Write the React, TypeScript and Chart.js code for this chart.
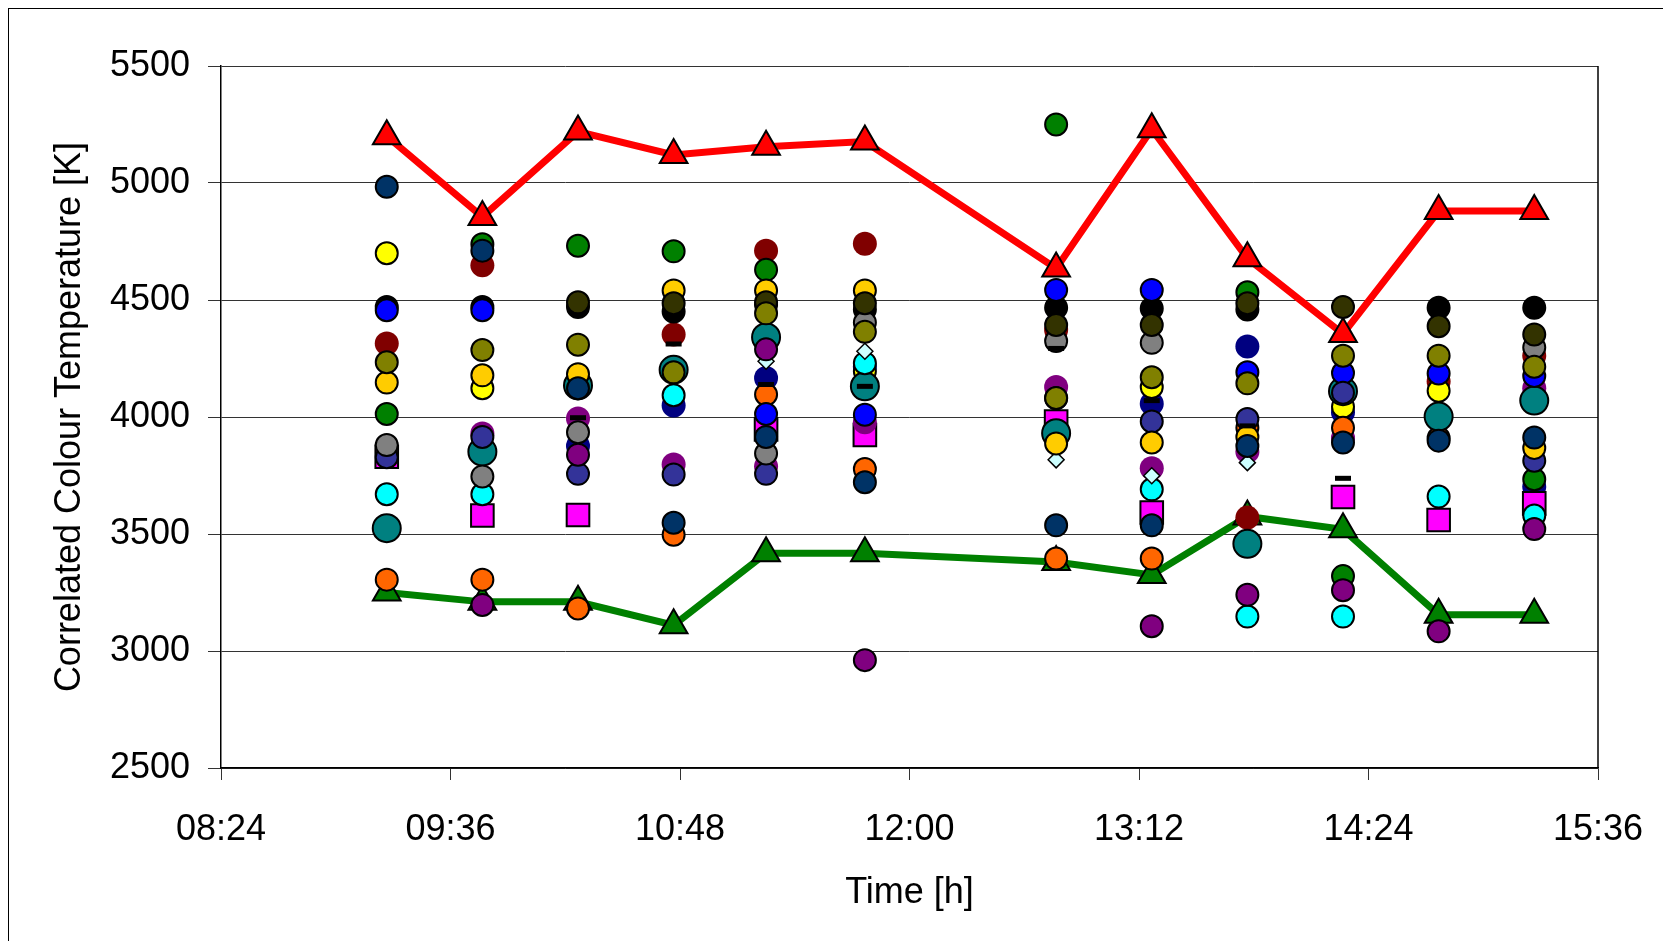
import React, { useEffect, useRef } from "react";
import { Chart, registerables } from "chart.js";

Chart.register(...registerables);

// Measurement times (hh:mm)
const TIMES = ["09:16", "09:46", "10:16", "10:46", "11:15", "11:46", "12:46", "13:16", "13:46", "14:16", "14:46", "15:16"];

// Axis range
const X_START = "08:24";
const X_END = "15:36";
const X_STEP_MIN = 72;
const Y_MIN = 2500;
const Y_MAX = 5500;
const Y_STEP = 500;

// Envelope series (K)
const MAX_CCT = [5200, 4855, 5220, 5120, 5155, 5177, 4635, 5230, 4678, 4355, 4880, 4880];
const MIN_CCT = [3250, 3210, 3210, 3110, 3418, 3418, 3380, 3325, 3575, 3520, 3155, 3155];

// Individual measuring points (K), null = no reading
const P_NAVY = [4984, 4711, 4123, 3548, 3915, 3721, 3537, 3537, 3876, 3891, 3899, 3912];
const P_YELLOW = [4700, 4123, null, null, null, 4195, null, 4128, null, 4044, 4112, null];
const P_BLUE = [4456, 4456, null, null, 4013, 4010, 4543, 4543, 4191, 4188, 4186, 4175];
const P_MAROON = [4314, 4648, null, 4353, 4711, 4740, 4372, null, 3570, null, 4152, 4262];
const P_OLIVE = [4234, 4286, 4309, 4191, 4443, 4364, 4081, 4170, 4144, 4262, 4262, 4215];
const P_GOLD = [4147, 4178, 4183, 4541, 4541, 4541, 3887, 3891, 3915, null, null, 3868];
const P_GREEN = [4013, 4738, 4732, 4708, 4629, null, 5250, null, 4533, 3320, null, 3734];
const P_GREY = [3880, 3746, 3935, null, 3844, 4404, 4325, 4317, null, null, null, 4297];
const P_SLATE = [3828, 3915, 3757, 3754, 3757, null, 4080, 3981, 3991, 4104, null, 3813];
const P_MAGENTA = [3830, 3579, 3581, null, 3947, 3923, 3981, 3592, null, 3658, 3560, 3631];
const P_CYAN = [3670, 3670, null, 4093, null, 4230, null, 3691, 3147, 3147, 3660, 3579];
const P_TEAL = [3525, 3852, 4135, 4202, 4341, 4131, 3931, null, 3458, 4110, 4002, 4070];
const P_ORANGE = [3305, 3305, 3182, 3497, 4096, 3778, 3395, 3395, 3954, 3954, 3910, null];
const P_PURPLE = [null, 3197, 3839, null, 4289, 2961, null, 3106, 3240, 3260, 3084, 3521];
const P_VIOLET = [null, 3930, 3994, 3797, 3789, 3978, 4128, 3781, 3852, 3910, null, 4123];
const P_BLACK = [4470, 4470, 4470, 4451, 4480, 4459, 4467, 4464, 4459, null, 4467, 4467];
const P_DARKOLIVE = [null, null, 4490, 4486, 4490, 4486, 4393, 4393, 4486, 4470, 4388, 4353];
const P_DEEPBLUE = [null, null, 3876, 4049, 4167, 4215, null, 4057, 4301, 4020, null, 3702];
const P_ICE = [null, null, null, null, 4238, 4281, 3817, 3749, 3805, null, null, null];
const P_BAR = [null, null, 3997, 4312, 4139, 4131, 4293, 4070, 3962, 3738, null, null];

const toMinutes = (t: string) => {
  const [h, m] = t.split(":").map(Number);
  return h * 60 + m;
};
const fmtTime = (v: number) => {
  const h = Math.floor(v / 60);
  const m = Math.round(v - h * 60);
  return `${String(h).padStart(2, "0")}:${String(m).padStart(2, "0")}`;
};

type Series = {
  label: string;
  values: (number | null)[];
  shape: string;
  fill: string;
  radius: number;
  border?: number;
  borderColor?: string;
  line?: string;
};

// Listed from the bottom layer to the top layer
const SERIES: Series[] = [
  { label: "Max", values: MAX_CCT, shape: "triangle", fill: "#FF0000", radius: 16, border: 2, line: "#FF0000" },
  { label: "Min", values: MIN_CCT, shape: "triangle", fill: "#008000", radius: 16, border: 2, line: "#008000" },
  { label: "P19", values: P_DEEPBLUE, shape: "circle", fill: "#000080", radius: 12, border: 0 },
  { label: "P18", values: P_MAROON, shape: "circle", fill: "#800000", radius: 12, border: 0 },
  { label: "P17", values: P_BLACK, shape: "circle", fill: "#000000", radius: 11, border: 2 },
  { label: "P16", values: P_MAGENTA, shape: "rect", fill: "#FF00FF", radius: 16, border: 2 },
  { label: "P15", values: P_VIOLET, shape: "circle", fill: "#800080", radius: 12, border: 0 },
  { label: "P14", values: P_YELLOW, shape: "circle", fill: "#FFFF00", radius: 11, border: 2 },
  { label: "P13", values: P_ORANGE, shape: "circle", fill: "#FF6600", radius: 11, border: 2 },
  { label: "P12", values: P_GREEN, shape: "circle", fill: "#008000", radius: 11, border: 2 },
  { label: "P11", values: P_TEAL, shape: "circle", fill: "#008080", radius: 14, border: 2 },
  { label: "P10", values: P_CYAN, shape: "circle", fill: "#00FFFF", radius: 11, border: 2 },
  { label: "P9", values: P_ICE, shape: "rectRot", fill: "#CCFFFF", radius: 8, border: 1.5 },
  { label: "P8", values: P_BLUE, shape: "circle", fill: "#0000FF", radius: 11, border: 2 },
  { label: "P7", values: P_SLATE, shape: "circle", fill: "#333399", radius: 11, border: 2 },
  { label: "P6", values: P_GREY, shape: "circle", fill: "#808080", radius: 11, border: 2 },
  { label: "P5", values: P_PURPLE, shape: "circle", fill: "#800080", radius: 11, border: 2 },
  { label: "P4", values: P_GOLD, shape: "circle", fill: "#FFCC00", radius: 11, border: 2 },
  { label: "P3", values: P_DARKOLIVE, shape: "circle", fill: "#333300", radius: 11, border: 2 },
  { label: "P2", values: P_OLIVE, shape: "circle", fill: "#808000", radius: 11, border: 2 },
  { label: "P1", values: P_NAVY, shape: "circle", fill: "#003366", radius: 11, border: 2 },
  { label: "P0", values: P_BAR, shape: "line", fill: "#000000", radius: 8, border: 5, borderColor: "#000000" },
];

const FONT = "'Liberation Sans', Arial, sans-serif";

const plotFrame = {
  id: "plotFrame",
  beforeDatasetsDraw(chart: any) {
    const { ctx, chartArea } = chart;
    ctx.save();
    ctx.strokeStyle = "#000";
    ctx.lineWidth = 1.5;
    ctx.beginPath();
    ctx.moveTo(chartArea.right, chartArea.top);
    ctx.lineTo(chartArea.right, chartArea.bottom);
    ctx.stroke();
    ctx.restore();
  },
};

export default function App() {
  const canvasRef = useRef<HTMLCanvasElement | null>(null);

  useEffect(() => {
    if (!canvasRef.current) return;
    const xs = TIMES.map(toMinutes);

    const datasets = SERIES.map((s) => ({
      label: s.label,
      data: s.values
        .map((v, i) => (v == null ? null : { x: xs[i], y: v }))
        .filter((p) => p !== null),
      showLine: !!s.line,
      borderColor: s.line ?? "transparent",
      borderWidth: s.line ? 7 : 0,
      pointStyle: s.shape,
      pointRadius: s.radius,
      pointHoverRadius: s.radius,
      pointBackgroundColor: s.fill,
      pointBorderColor: s.borderColor ?? "#000000",
      pointBorderWidth: s.border ?? 2,
      tension: 0,
    })).reverse();

    const chart = new Chart(canvasRef.current, {
      type: "scatter",
      data: { datasets: datasets as any },
      plugins: [plotFrame],
      options: {
        responsive: false,
        animation: false,
        layout: { padding: { top: 57, right: 65, left: 0, bottom: 0 } },
        plugins: { legend: { display: false }, tooltip: { enabled: false } },
        scales: {
          x: {
            type: "linear",
            min: toMinutes(X_START),
            max: toMinutes(X_END),
            afterFit: (scale: any) => {
              scale.height = 173;
              scale.paddingLeft = 0;
              scale.paddingRight = 0;
            },
            ticks: {
              stepSize: X_STEP_MIN,
              padding: 28,
              color: "#000",
              font: { family: FONT, size: 36 },
              callback: (v: any) => fmtTime(Number(v)),
              maxRotation: 0,
            },
            grid: {
              display: true,
              drawOnChartArea: false,
              drawTicks: true,
              tickLength: 12,
              color: "#333",
              lineWidth: 1,
            },
            border: { display: true, color: "#000", width: 1.5 },
            title: {
              display: true,
              text: "Time [h]",
              color: "#000",
              font: { family: FONT, size: 36 },
              padding: { top: 0, bottom: 26 },
            },
          },
          y: {
            type: "linear",
            min: Y_MIN,
            max: Y_MAX,
            afterFit: (scale: any) => {
              scale.width = 212;
              scale.paddingTop = 0;
              scale.paddingBottom = 0;
            },
            ticks: {
              stepSize: Y_STEP,
              padding: 18,
              color: "#000",
              font: { family: FONT, size: 36 },
              callback: (v: any) => String(v),
            },
            grid: {
              color: "#333",
              lineWidth: 1,
              tickLength: 13,
              drawTicks: true,
            },
            border: { display: true, color: "#000", width: 1.5 },
            title: {
              display: true,
              text: "Correlated Colour Temperature [K]",
              color: "#000",
              font: { family: FONT, size: 36 },
              padding: { top: 39, bottom: 0 },
            },
          },
        },
      },
    });
    return () => chart.destroy();
  }, []);

  return (
    <div
      style={{
        width: 1654,
        height: 932,
        borderLeft: "1px solid #000",
        borderTop: "1px solid #000",
        background: "#fff",
      }}
    >
      <canvas ref={canvasRef} width={1654} height={932} style={{ display: "block" }} />
    </div>
  );
}
